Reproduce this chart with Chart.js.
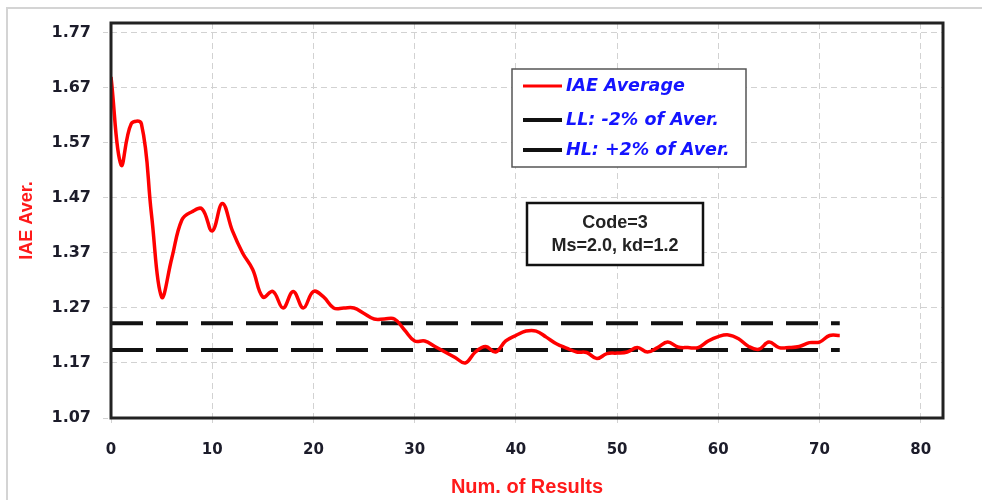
<!DOCTYPE html>
<html><head><meta charset="utf-8">
<script src="https://cdn.jsdelivr.net/npm/chart.js@4/dist/chart.umd.min.js"></script>
<style>html,body{margin:0;padding:0;background:#fff;overflow:hidden}</style>
</head><body>
<canvas id="c" width="982" height="500"></canvas>
<script>
// ---- data ----
const xValues = [0,1,2,3,4,5,6,7,8,9,10,11,12,13,14,15,16,17,18,19,20,21,22,23,24,25,26,27,28,29,30,31,32,33,34,35,36,37,38,39,40,41,42,43,44,45,46,47,48,49,50,51,52,53,54,55,56,57,58,59,60,61,62,63,64,65,66,67,68,69,70,71,72];
const iaeAverage = [1.69,1.53,1.605,1.605,1.44,1.29,1.36,1.43,1.445,1.45,1.41,1.46,1.41,1.37,1.34,1.29,1.30,1.27,1.30,1.27,1.30,1.29,1.27,1.27,1.27,1.26,1.25,1.25,1.25,1.23,1.21,1.21,1.20,1.19,1.18,1.17,1.19,1.20,1.19,1.21,1.22,1.228,1.228,1.217,1.205,1.197,1.19,1.189,1.178,1.187,1.188,1.19,1.198,1.19,1.198,1.208,1.199,1.198,1.198,1.21,1.218,1.221,1.214,1.20,1.195,1.208,1.198,1.198,1.20,1.207,1.208,1.22,1.22];
const limitX = [0, 72];
const lowLimit = [1.1936, 1.1936];
const highLimit = [1.2424, 1.2424];
const yTicks = [1.07,1.17,1.27,1.37,1.47,1.57,1.67,1.77];
const xTicks = [0,10,20,30,40,50,60,70,80];
const seriesLabels = ['IAE Average','LL: -2% of Aver.','HL: +2% of Aver.'];
const noteLines = ['Code=3','Ms=2.0, kd=1.2'];
const xTitle = 'Num. of Results';
const yTitle = 'IAE Aver.';

// ---- build ----
const toPts = (xs, ys) => ys.map((v, i) => ({x: xs[i], y: v}));
const tickFont = {family: 'DejaVu Sans', weight: 'bold', size: 15};
const gridCommon = {color: '#d2d2d2', lineWidth: 1, drawTicks: true, tickLength: 8, tickColor: '#d2d2d2', tickBorderDash: [5,3]};

const decor = {
  id: 'decor',
  beforeDraw(chart) {
    const ctx = chart.ctx;
    ctx.save();
    ctx.fillStyle = '#fff';
    ctx.fillRect(0, 0, chart.width, chart.height);
    ctx.strokeStyle = '#d4d4d4';
    ctx.lineWidth = 2;
    ctx.beginPath();
    ctx.moveTo(7, chart.height);
    ctx.lineTo(7, 8);
    ctx.lineTo(chart.width, 8);
    ctx.stroke();
    ctx.restore();
  },
  afterDraw(chart) {
    const ctx = chart.ctx;
    const a = chart.chartArea;
    ctx.save();
    // plot frame
    ctx.strokeStyle = '#222';
    ctx.lineWidth = 3;
    ctx.strokeRect(a.left, a.top, a.right - a.left, a.bottom - a.top);
    // legend
    ctx.fillStyle = '#fff';
    ctx.fillRect(512, 69, 234, 98);
    ctx.strokeStyle = '#555';
    ctx.lineWidth = 1.5;
    ctx.strokeRect(512, 69, 234, 98);
    const rows = [86, 120, 150];
    chart.data.datasets.forEach((ds, i) => {
      const y = rows[i];
      ctx.strokeStyle = ds.borderColor;
      ctx.lineWidth = i === 0 ? 3 : 4;
      ctx.setLineDash([]);
      ctx.beginPath();
      ctx.moveTo(523, y);
      ctx.lineTo(562, y);
      ctx.stroke();
      ctx.fillStyle = '#1414ff';
      ctx.font = 'italic bold 17.5px "DejaVu Sans"';
      ctx.textBaseline = 'middle';
      ctx.textAlign = 'left';
      ctx.fillText(ds.label, 566, y);
    });
    // note box
    ctx.fillStyle = '#fff';
    ctx.fillRect(527, 203, 176, 62);
    ctx.strokeStyle = '#111';
    ctx.lineWidth = 2.5;
    ctx.strokeRect(527, 203, 176, 62);
    ctx.fillStyle = '#222';
    ctx.font = 'bold 18px "Liberation Sans"';
    ctx.textAlign = 'center';
    ctx.textBaseline = 'middle';
    ctx.fillText(noteLines[0], 615, 223);
    ctx.fillText(noteLines[1], 615, 246);
    ctx.restore();
  }
};

new Chart(document.getElementById('c'), {
  type: 'line',
  data: {
    datasets: [
      {label: seriesLabels[0], data: toPts(xValues, iaeAverage), borderColor: '#ff0000', borderWidth: 3.5, pointRadius: 0, tension: 0.4, fill: false},
      {label: seriesLabels[1], data: toPts(limitX, lowLimit), borderColor: '#111111', borderWidth: 4, borderDash: [32, 13], pointRadius: 0, fill: false},
      {label: seriesLabels[2], data: toPts(limitX, highLimit), borderColor: '#111111', borderWidth: 4, borderDash: [32, 13], pointRadius: 0, fill: false}
    ]
  },
  options: {
    responsive: false,
    animation: false,
    devicePixelRatio: 1,
    layout: {padding: {left: 0, top: 23, right: 39, bottom: 0}},
    plugins: {legend: {display: false}, tooltip: {enabled: false}},
    scales: {
      x: {
        type: 'linear', min: 0, max: 82.2,
        afterBuildTicks: s => { s.ticks = xTicks.map(v => ({value: v})); },
        afterFit: s => { s.height = 82; },
        ticks: {font: tickFont, color: '#1c1c2a', padding: 15, maxRotation: 0, callback: v => String(v)},
        grid: gridCommon,
        border: {display: false, dash: [6, 4]},
        title: {display: true, text: xTitle, color: '#ff1a1a', font: {family: 'Liberation Sans', weight: 'bold', size: 20}, padding: {top: 0, bottom: 1}}
      },
      y: {
        min: 1.07, max: 1.788,
        afterBuildTicks: s => { s.ticks = yTicks.map(v => ({value: v})); },
        afterFit: s => { s.width = 111; },
        ticks: {font: {family: 'DejaVu Sans', weight: 'bold', size: 16}, color: '#1c1c2a', padding: 12, callback: v => v.toFixed(2)},
        grid: gridCommon,
        border: {display: false, dash: [6, 4]},
        title: {display: true, text: yTitle, color: '#ff1a1a', font: {family: 'Liberation Sans', weight: 'bold', size: 18}, padding: {top: 16, bottom: 0}}
      }
    }
  },
  plugins: [decor]
});
</script>
</body></html>
